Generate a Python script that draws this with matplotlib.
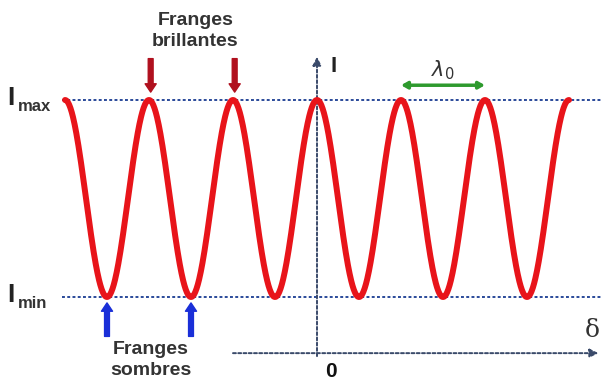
import matplotlib.pyplot as plt
import numpy as np

# Paramètres de la figure d'interférence
lambda0 = 1.0
I_max = 1.0
I_min = 0.0
delta_debut, delta_fin = -3.0, 3.0
franges_brillantes = [-2.0, -1.0]     # positions des flèches rouges (en lambda0)
franges_sombres = [-2.5, -1.5]        # positions des flèches bleues
lambda_debut, lambda_fin = 1.0, 2.0   # flèche verte lambda0

rouge = '#e8141a'
bleu_tirets = '#2a4a9a'
gris_axe = '#3a4a6a'

fig = plt.figure(figsize=(6.01, 3.89), dpi=100)
ax = fig.add_axes([0, 0, 1, 1])
ax.set_xlim(-317 / 84, (601 - 317) / 84)
ax.set_ylim(-(389 - 297) / 197, 1 + 100 / 197)
ax.axis('off')

# Courbe I(delta)
delta = np.linspace(delta_debut, delta_fin, 1200)
I = (I_max + I_min) / 2 + (I_max - I_min) / 2 * np.cos(2 * np.pi * delta / lambda0)
ax.plot(delta, I, color=rouge, lw=4.3, solid_capstyle='round', zorder=3)

# Lignes Imax / Imin
x_gauche = -3.04
ax.plot([x_gauche, 3.4], [I_max, I_max], color=bleu_tirets, lw=1.4, ls=(0, (1.5, 1.2)), zorder=2)
ax.plot([x_gauche, 3.4], [I_min, I_min], color=bleu_tirets, lw=1.4, ls=(0, (1.5, 1.2)), zorder=2)

# Axes en pointillés
ax.annotate('', xy=(0, 1.22), xytext=(0, -0.30),
            arrowprops=dict(arrowstyle='-|>,head_width=0.25,head_length=0.5', color=gris_axe,
                            lw=1.4, ls=(0, (1.5, 1.2)), shrinkA=0, shrinkB=0), zorder=2)
ax.annotate('', xy=(3.35, -0.285), xytext=(-1.0, -0.285),
            arrowprops=dict(arrowstyle='-|>,head_width=0.25,head_length=0.5', color=gris_axe,
                            lw=1.4, ls=(0, (1.5, 1.2)), shrinkA=0, shrinkB=0), zorder=2)

# Étiquettes
fb = 'Liberation Sans'
ax.text(-3.64, I_max + 0.01, 'I', fontsize=19, fontweight='bold', family=fb, color='#222222',
        ha='center', va='center')
ax.text(-3.56, I_max - 0.035, 'max', fontsize=12, fontweight='bold', family=fb, color='#333333',
        ha='left', va='center')
ax.text(-3.64, I_min + 0.01, 'I', fontsize=19, fontweight='bold', family=fb, color='#222222',
        ha='center', va='center')
ax.text(-3.56, I_min - 0.035, 'min', fontsize=12, fontweight='bold', family=fb, color='#333333',
        ha='left', va='center')
ax.text(0.2, 1.17, 'I', fontsize=16, fontweight='bold', family=fb, color='#222222',
        ha='center', va='center')
ax.text(0.16, -0.38, '0', fontsize=15, fontweight='bold', family=fb, color='#111111',
        ha='center', va='center')
ax.text(3.28, -0.17, 'δ', fontsize=18, family='DejaVu Serif', color='#333333',
        ha='center', va='center')
ax.text(1.5, 1.15, r'$\lambda_0$', fontsize=15, color='#333333', ha='center', va='center')

ax.text(-1.45, 1.35, 'Franges\nbrillantes', fontsize=14, fontweight='bold', family=fb,
        color='#333333', ha='center', va='center', linespacing=1.35)
ax.text(-1.98, -0.32, 'Franges\nsombres', fontsize=14, fontweight='bold', family=fb,
        color='#333333', ha='center', va='center', linespacing=1.3)

# Flèches des franges
for xb in franges_brillantes:
    ax.annotate('', xy=(xb + 0.02, 1.04), xytext=(xb + 0.02, 1.21),
                arrowprops=dict(arrowstyle='simple,head_width=0.8,head_length=0.6,tail_width=0.35',
                                color='#b0101e', shrinkA=0, shrinkB=0), zorder=4)
for xs in franges_sombres:
    ax.annotate('', xy=(xs, -0.03), xytext=(xs, -0.2),
                arrowprops=dict(arrowstyle='simple,head_width=0.8,head_length=0.6,tail_width=0.35',
                                color='#1a2fd8', shrinkA=0, shrinkB=0), zorder=4)

# Flèche lambda0
ax.annotate('', xy=(lambda_debut, 1.075), xytext=(lambda_fin, 1.075),
            arrowprops=dict(arrowstyle='<|-|>,head_width=0.2,head_length=0.35', color='#2e9a2e',
                            lw=2.5, shrinkA=0, shrinkB=0), zorder=4)

fig.savefig('out.png', dpi=100)
